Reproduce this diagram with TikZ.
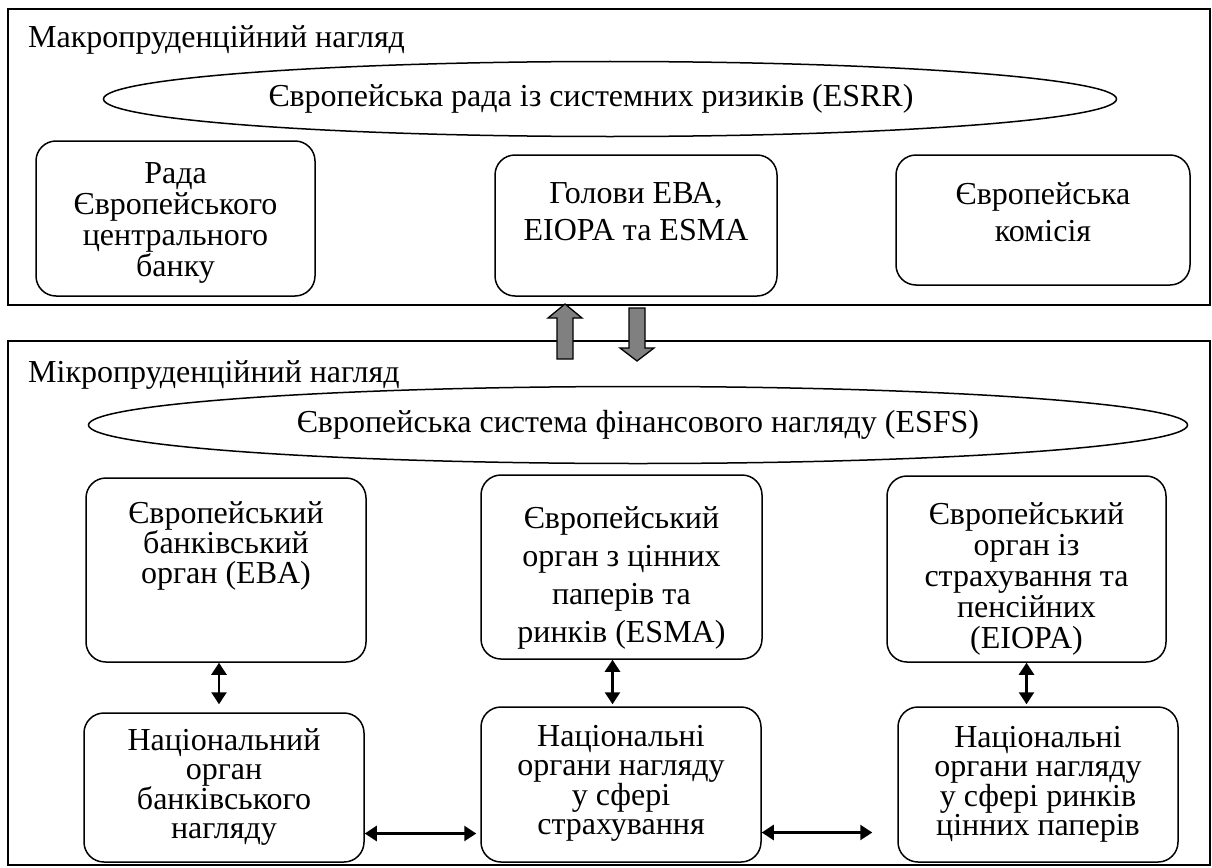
\documentclass[tikz,border=0pt]{standalone}
\usepackage{fontspec}
\setmainfont{Liberation Serif}
\usetikzlibrary{arrows.meta,shapes.geometric}

\tikzset{
  panel/.style={draw,line width=1.5pt},
  box/.style={draw,line width=1.5pt,rounded corners=20pt,inner sep=0pt},
  oval/.style={draw,ellipse,line width=1.5pt,inner sep=0pt},
  txt/.style={align=center,inner sep=0pt,anchor=north,font=\fontsize{32}{#1}\selectfont},
  title/.style={anchor=base west,inner sep=0pt,font=\fontsize{32}{34}\selectfont},
  link/.style={line width=2.5pt,{Triangle[length=12pt,width=15pt]}-{Triangle[length=12pt,width=15pt]}},
  fat/.style={draw=black,line width=1.3pt,fill=gray,line join=miter},
}

\begin{document}
\begin{tikzpicture}[x=1pt,y=-1pt]
  \useasboundingbox (0,0) rectangle (1212,867);
  % two panels
  \draw[panel] (8,9) rectangle (1210,305);
  \draw[panel] (8,341) rectangle (1210,865);
  \node[title] (macro) at (28,48) {Макропруденційний нагляд};
  \node[title] (micro) at (28,382) {Мікропруденційний нагляд};

  % macro level
  \node[oval,minimum width=1013pt,minimum height=75pt] (esrr) at (610,99) {};
  \node[txt=34,anchor=center] (esrrt) at (591,99) {Європейська рада із системних ризиків (ESRR)};
  \node[box,minimum width=279pt,minimum height=155pt] (rada) at (175.5,218.5) {};
  \node[box,minimum width=282pt,minimum height=141pt] (golovy) at (636,225.5) {};
  \node[box,minimum width=294pt,minimum height=130pt] (komisia) at (1043,220) {};
  \node[txt=31] (radat) at (175.5,162) {Рада\\Європейського\\центрального\\банку};
  \node[txt=37] (golovyt) at (636,182) {Голови ЕВА,\\EIOPA та ESMA};
  \node[txt=37] (komisiat) at (1043,182) {Європейська\\комісія};

  % block arrows between levels
  \draw[fat] (557,359) -- (557,318) -- (548,318) -- (565,304) -- (582,318) -- (573,318) -- (573,359) -- cycle;
  \draw[fat] (629,308) -- (629,348) -- (620,348) -- (637,361) -- (654,348) -- (645,348) -- (645,308) -- cycle;

  % micro level
  \node[oval,minimum width=1099pt,minimum height=77pt] (esfs) at (638,425) {};
  \node[txt=34,anchor=center] (esfst) at (638,425) {Європейська система фінансового нагляду (ESFS)};
  \node[box,minimum width=280pt,minimum height=184pt] (eba) at (226,570) {};
  \node[box,minimum width=281pt,minimum height=184pt] (esma) at (621.5,567) {};
  \node[box,minimum width=279pt,minimum height=186pt] (eiopa) at (1026.5,569) {};
  \node[txt=30] (ebat) at (226,501) {Європейський\\банківський\\орган (EBA)};
  \node[txt=38] (esmat) at (621.5,506) {Європейський\\орган з цінних\\паперів та\\ринків (ESMA)};
  \node[txt=31] (eiopat) at (1026.5,502) {Європейський\\орган із\\страхування та\\пенсійних\\(EIOPA)};

  \node[box,minimum width=280pt,minimum height=149pt] (nat1) at (224,787.5) {};
  \node[box,minimum width=280pt,minimum height=155pt] (nat2) at (621,784.5) {};
  \node[box,minimum width=280pt,minimum height=155pt] (nat3) at (1038,784.5) {};
  \node[txt=29] (nat1t) at (224,728) {Національний\\орган\\банківського\\нагляду};
  \node[txt=29] (nat2t) at (621,725) {Національні\\органи нагляду\\у сфері\\страхування};
  \node[txt=29] (nat3t) at (1038,726) {Національні\\органи нагляду\\у сфері ринків\\цінних паперів};

  % links
  \draw[link,shorten >=8pt] ([xshift=-7pt]eba.south) -- ([xshift=-7pt]eba.south |- nat1.north);
  \draw[link,shorten >=2pt] ([xshift=-9pt]esma.south) -- ([xshift=-9pt]esma.south |- nat2.north);
  \draw[link,shorten >=2pt] (eiopa.south) -- (eiopa.south |- nat3.north);
  \draw[link,shorten >=4pt] ([yshift=-46pt]nat1.east) -- ([yshift=-46pt]nat1.east -| nat2.west);
  \draw[link,shorten >=25pt] ([yshift=-48pt]nat2.east) -- ([yshift=-48pt]nat2.east -| nat3.west);
\end{tikzpicture}
\end{document}
